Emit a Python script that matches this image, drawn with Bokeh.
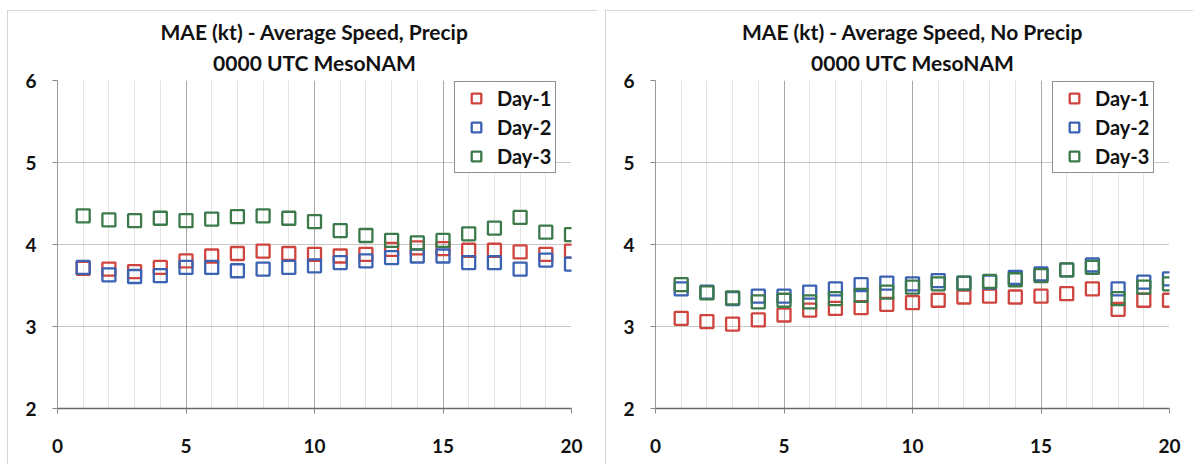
from bokeh.plotting import figure
from bokeh.layouts import row
from bokeh.models import SingleIntervalTicker, Legend, LegendItem, Title, Range1d
from bokeh.embed import file_html
from bokeh.resources import INLINE

# ---- data ----
lead = list(range(1, 21))

precip_day1 = [3.71, 3.70, 3.67, 3.72, 3.80, 3.86, 3.89, 3.92, 3.89, 3.88,
               3.86, 3.88, 3.94, 3.96, 3.95, 3.93, 3.93, 3.91, 3.88, 3.92]
precip_day2 = [3.72, 3.63, 3.61, 3.62, 3.72, 3.72, 3.68, 3.70, 3.72, 3.74,
               3.78, 3.80, 3.84, 3.86, 3.86, 3.78, 3.78, 3.70, 3.81, 3.76]
precip_day3 = [4.35, 4.30, 4.29, 4.32, 4.29, 4.31, 4.34, 4.35, 4.32, 4.28,
               4.17, 4.11, 4.05, 4.02, 4.05, 4.13, 4.20, 4.33, 4.15, 4.12]

noprecip_day1 = [3.10, 3.06, 3.03, 3.08, 3.14, 3.20, 3.22, 3.23, 3.27, 3.29,
                 3.32, 3.36, 3.37, 3.36, 3.37, 3.40, 3.46, 3.21, 3.32, 3.32]
noprecip_day2 = [3.46, 3.42, 3.34, 3.37, 3.37, 3.42, 3.46, 3.51, 3.53, 3.52,
                 3.56, 3.53, 3.54, 3.60, 3.64, 3.69, 3.75, 3.46, 3.54, 3.58]
noprecip_day3 = [3.51, 3.41, 3.35, 3.30, 3.32, 3.30, 3.34, 3.38, 3.42, 3.48,
                 3.52, 3.53, 3.55, 3.57, 3.62, 3.69, 3.72, 3.34, 3.48, 3.52]

series_names = ["Day-1", "Day-2", "Day-3"]
series_colors = ["#d0443f", "#3b62b3", "#3c7a4c"]

titles = [("MAE (kt) - Average Speed, Precip", "0000 UTC MesoNAM"),
          ("MAE (kt) - Average Speed, No Precip", "0000 UTC MesoNAM")]

FONT = "Lato"


def make_panel(title_lines, ys, margin):
    p = figure(width=590, height=454, output_backend="svg", toolbar_location=None,
               x_range=Range1d(0, 20), y_range=Range1d(2, 6),
               min_border_left=50, min_border_right=26, min_border_top=70,
               min_border_bottom=56)
    p.margin = margin
    p.styles = {"outline": "1px solid #c9c9c9", "outline-offset": "-1px"}
    p.outline_line_color = None
    p.background_fill_color = "white"
    p.border_fill_color = "white"

    t2 = Title(text=title_lines[1], align="center", text_font=FONT,
               text_font_size="21px", text_font_style="bold", text_color="#111111",
               standoff=12, offset=0)
    t1 = Title(text=title_lines[0], align="center", text_font=FONT,
               text_font_size="21px", text_font_style="bold", text_color="#111111",
               standoff=-4, offset=0)
    p.add_layout(t2, "above")
    p.add_layout(t1, "above")

    p.xaxis.ticker = SingleIntervalTicker(interval=5, num_minor_ticks=5)
    p.yaxis.ticker = SingleIntervalTicker(interval=1)
    for ax in (p.xaxis, p.yaxis):
        ax.major_label_text_font = FONT
        ax.major_label_text_font_size = "19px"
        ax.major_label_text_font_style = "bold"
        ax.major_label_text_color = "#111111"
        ax.minor_tick_line_color = None
        ax.major_tick_in = 0
        ax.major_tick_out = 5
        ax.major_tick_line_color = "#888888"
    p.yaxis.axis_line_color = "#9a9a9a"
    p.xaxis.axis_line_color = "#666a70"
    p.xaxis.axis_line_width = 1.5
    p.yaxis.major_label_standoff = 16
    p.xaxis.major_label_standoff = 25

    p.xgrid.grid_line_color = "#a8a8a8"
    p.xgrid.minor_grid_line_color = "#e4e4e4"
    p.ygrid.grid_line_color = "#8f8f8f"
    p.ygrid.grid_line_dash = "1 1"

    items = []
    for name, col, y in zip(series_names, series_colors, ys):
        r = p.scatter(lead, y, marker="square", size=13, fill_color=None,
                      line_color=col, line_width=2.3)
        items.append(LegendItem(label=name, renderers=[r]))

    leg = Legend(items=items, location=(397, 235))
    leg.label_text_font = FONT
    leg.label_text_font_size = "20px"
    leg.label_text_font_style = "bold"
    leg.label_text_color = "#111111"
    leg.border_line_color = "#222222"
    leg.border_line_width = 1
    leg.background_fill_alpha = 1
    leg.padding = 4
    leg.spacing = 5
    leg.label_height = 24
    leg.glyph_height = 24
    leg.glyph_width = 34
    leg.label_standoff = 4
    leg.margin = 0
    p.add_layout(leg, "center")
    return p


p1 = make_panel(titles[0], [precip_day1, precip_day2, precip_day3], (10, 0, 0, 7))
p2 = make_panel(titles[1], [noprecip_day1, noprecip_day2, noprecip_day3], (10, 0, 0, 8))

layout = row(p1, p2)
layout.styles = {"background-color": "white"}

open("out.html", "w").write(file_html(layout, INLINE))
